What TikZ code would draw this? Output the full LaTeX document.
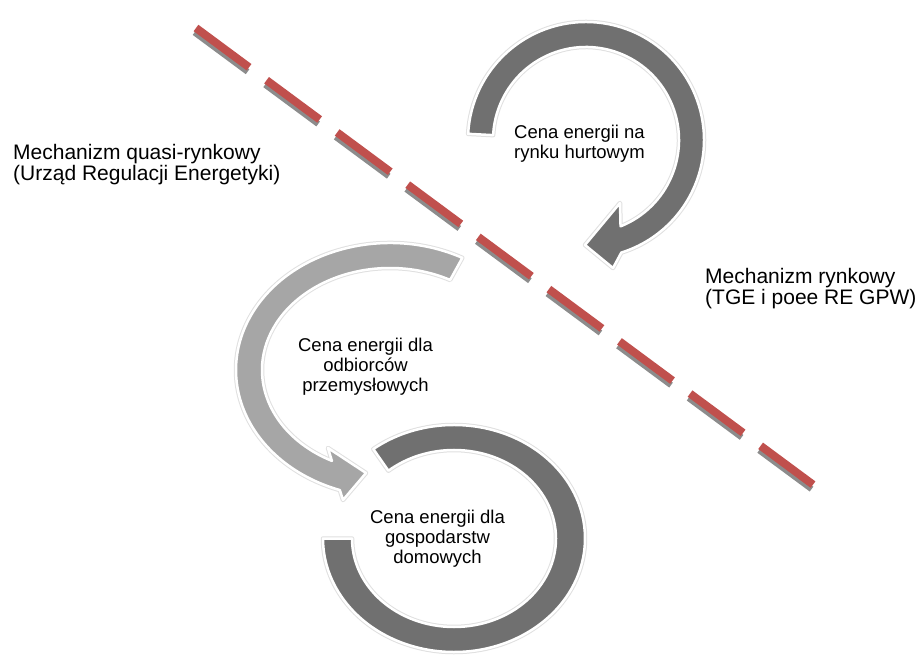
\documentclass[tikz,border=0pt]{standalone}
\usepackage{fontspec}
\setmainfont{Liberation Sans}
\usetikzlibrary{calc}
\definecolor{ringdark}{RGB}{112,112,112}
\definecolor{ringlight}{RGB}{166,166,166}
\definecolor{dashred}{RGB}{192,80,77}
\def\ringTop{(586,524) ++(177:118) arc[start angle=177, end angle=-72.6, radius=118] -- (613,396) -- (585,419) -- (620,461) -- ($(586,524)+(-68.2:93)$) arc[start angle=-68.2, end angle=177, radius=93] -- cycle}
\def\ringMid{(390,294) ++(62:154 and 127) arc[start angle=62, end angle=251, x radius=154, y radius=127] -- (343,164) -- (366,191) -- (328,216) -- ($(390,294)+(243:128 and 102)$) arc[start angle=243, end angle=62, x radius=128, y radius=102] -- cycle}
\def\ringLow{(454,125.5) ++(128:131 and 113.5) arc[start angle=128, end angle=-180, x radius=131, y radius=113.5] -- ($(454,125.5)+(180:102 and 88.5)$) arc[start angle=-180, end angle=130, x radius=102, y radius=88.5] -- cycle}
\begin{document}
\begin{tikzpicture}[x=1pt,y=1pt,
  glow/.style={draw=black!12, line width=4.5pt, line join=round},
  ringfill/.style={fill=#1, draw=white, line width=2.5pt, line join=round},
  inner label/.style={font=\fontsize{18.5}{20}\selectfont, align=center, anchor=north, inner sep=0pt},
  side label/.style={font=\fontsize{21}{21}\selectfont, align=left, anchor=north west, inner sep=0pt},
  redline/.style={draw=dashred, line width=8pt, dash pattern=on 66pt off 21.8pt},
  redshadow/.style={draw=black!45, line width=6pt, dash pattern=on 66pt off 21.8pt}]
\fill[white] (0,0) rectangle (923,664);
\useasboundingbox (0,0) rectangle (923,664);
% dashed divider
\coordinate (dA) at (196,636);
\coordinate (dB) at (813,179.4);
\draw[redshadow] ([shift={(-1.5,-4.5)}]dA) -- ([shift={(-1.5,-4.5)}]dB);
\draw[redline] (dA) -- (dB);
% rings
\path[glow] \ringLow;
\path[ringfill=ringdark] \ringLow;
\path[glow] \ringMid;
\path[ringfill=ringlight] \ringMid;
\path[glow] \ringTop;
\path[ringfill=ringdark] \ringTop;
% labels
\node[inner label] (hurt) at (579.5,539) {Cena energii na\\rynku hurtowym};
\node[inner label] (przem) at (365.5,326) {Cena energii dla\\odbiorców\\przemysłowych};
\node[inner label] (dom) at (437.5,154) {Cena energii dla\\gospodarstw\\domowych};
\node[side label] (quasi) at (13,520) {Mechanizm quasi-rynkowy\\(Urząd Regulacji Energetyki)};
\node[side label] (rynk) at (705,396) {Mechanizm rynkowy\\(TGE i poee RE GPW)};
\end{tikzpicture}
\end{document}
